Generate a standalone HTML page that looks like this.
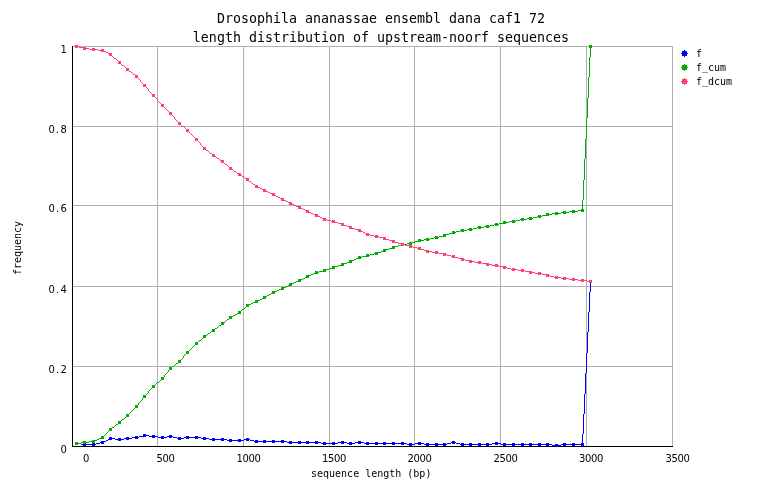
<!DOCTYPE html>
<html><head><meta charset="utf-8"><title>length distribution of upstream-noorf sequences</title>
<style>
html,body{margin:0;padding:0;background:#fff;}
body{width:762px;height:498px;overflow:hidden;position:relative;font-family:"DejaVu Sans Mono","Liberation Mono",monospace;color:#000;}
svg{position:absolute;left:0;top:0;display:block;}
.t{position:absolute;white-space:pre;line-height:1;}
.title{font-size:13.3px;letter-spacing:0;}
.lab{font-size:10px;letter-spacing:0;}
.num{font-family:"DejaVu Sans","Liberation Sans",sans-serif;font-size:10px;letter-spacing:-0.36px;}
.us{position:relative;top:-1.5px;}
.num i{font-style:normal;display:inline-block;width:6px;text-align:center;letter-spacing:0;}
</style></head><body>
<svg width="762" height="498" viewBox="0 0 762 498">

<g shape-rendering="crispEdges" stroke="#b0b0b0" stroke-width="1" fill="none">
<line x1="157.5" y1="46" x2="157.5" y2="447"/>
<line x1="243.5" y1="46" x2="243.5" y2="447"/>
<line x1="329.5" y1="46" x2="329.5" y2="447"/>
<line x1="414.5" y1="46" x2="414.5" y2="447"/>
<line x1="500.5" y1="46" x2="500.5" y2="447"/>
<line x1="586.5" y1="46" x2="586.5" y2="447"/>
<line x1="672.5" y1="46" x2="672.5" y2="447"/>
<line x1="72" y1="46.5" x2="673" y2="46.5"/>
<line x1="72" y1="126.5" x2="673" y2="126.5"/>
<line x1="72" y1="205.5" x2="673" y2="205.5"/>
<line x1="72" y1="286.5" x2="673" y2="286.5"/>
<line x1="72" y1="366.5" x2="673" y2="366.5"/>
</g>
<g shape-rendering="crispEdges" stroke="#000" stroke-width="1" fill="none">
<line x1="72.5" y1="46" x2="72.5" y2="447"/>
<line x1="72" y1="446.5" x2="673" y2="446.5"/>
</g>
<path fill="#0000ff" shape-rendering="crispEdges" d="M76 443h5v1h-5zM81 444h15v1h-15zM96 443h4v1h-4zM100 442h4v1h-4zM104 441h2v1h-2zM106 440h2v1h-2zM108 439h2v1h-2zM110 438h5v1h-5zM115 439h9v1h-9zM124 438h8v1h-8zM132 437h7v1h-7zM139 436h4v1h-4zM143 435h6v1h-6zM149 436h9v1h-9zM158 437h9v1h-9zM167 436h6v1h-6zM173 437h4v1h-4zM177 438h7v1h-7zM184 437h17v1h-17zM201 438h8v1h-8zM209 439h18v1h-18zM227 440h17v1h-17zM244 439h6v1h-6zM250 440h4v1h-4zM254 441h33v1h-33zM287 442h34v1h-34zM321 443h17v1h-17zM338 442h9v1h-9zM347 443h8v1h-8zM355 442h9v1h-9zM364 443h43v1h-43zM407 444h8v1h-8zM415 443h9v1h-9zM424 444h23v1h-23zM447 443h4v1h-4zM451 442h5v1h-5zM456 443h4v1h-4zM460 444h32v1h-32zM492 443h9v1h-9zM501 444h51v1h-51zM552 445h9v1h-9zM561 444h22v1h-22zM582 434h1v11h-1zM583 414h1v20h-1zM584 394h1v20h-1zM585 373h1v21h-1zM586 353h1v20h-1zM587 332h1v21h-1zM588 312h1v20h-1zM589 292h1v20h-1zM590 281h1v11h-1z"/>
<g fill="#0000ff" shape-rendering="crispEdges">
<rect x="75" y="442" width="3" height="3"/>
<rect x="83" y="443" width="3" height="3"/>
<rect x="92" y="443" width="3" height="3"/>
<rect x="101" y="441" width="3" height="3"/>
<rect x="109" y="437" width="3" height="3"/>
<rect x="118" y="438" width="3" height="3"/>
<rect x="126" y="437" width="3" height="3"/>
<rect x="135" y="436" width="3" height="3"/>
<rect x="143" y="434" width="3" height="3"/>
<rect x="152" y="435" width="3" height="3"/>
<rect x="161" y="436" width="3" height="3"/>
<rect x="169" y="435" width="3" height="3"/>
<rect x="178" y="437" width="3" height="3"/>
<rect x="186" y="436" width="3" height="3"/>
<rect x="195" y="436" width="3" height="3"/>
<rect x="203" y="437" width="3" height="3"/>
<rect x="212" y="438" width="3" height="3"/>
<rect x="221" y="438" width="3" height="3"/>
<rect x="229" y="439" width="3" height="3"/>
<rect x="238" y="439" width="3" height="3"/>
<rect x="246" y="438" width="3" height="3"/>
<rect x="255" y="440" width="3" height="3"/>
<rect x="263" y="440" width="3" height="3"/>
<rect x="272" y="440" width="3" height="3"/>
<rect x="281" y="440" width="3" height="3"/>
<rect x="289" y="441" width="3" height="3"/>
<rect x="298" y="441" width="3" height="3"/>
<rect x="306" y="441" width="3" height="3"/>
<rect x="315" y="441" width="3" height="3"/>
<rect x="323" y="442" width="3" height="3"/>
<rect x="332" y="442" width="3" height="3"/>
<rect x="341" y="441" width="3" height="3"/>
<rect x="349" y="442" width="3" height="3"/>
<rect x="358" y="441" width="3" height="3"/>
<rect x="366" y="442" width="3" height="3"/>
<rect x="375" y="442" width="3" height="3"/>
<rect x="383" y="442" width="3" height="3"/>
<rect x="392" y="442" width="3" height="3"/>
<rect x="401" y="442" width="3" height="3"/>
<rect x="409" y="443" width="3" height="3"/>
<rect x="418" y="442" width="3" height="3"/>
<rect x="426" y="443" width="3" height="3"/>
<rect x="435" y="443" width="3" height="3"/>
<rect x="443" y="443" width="3" height="3"/>
<rect x="452" y="441" width="3" height="3"/>
<rect x="461" y="443" width="3" height="3"/>
<rect x="469" y="443" width="3" height="3"/>
<rect x="478" y="443" width="3" height="3"/>
<rect x="486" y="443" width="3" height="3"/>
<rect x="495" y="442" width="3" height="3"/>
<rect x="503" y="443" width="3" height="3"/>
<rect x="512" y="443" width="3" height="3"/>
<rect x="521" y="443" width="3" height="3"/>
<rect x="529" y="443" width="3" height="3"/>
<rect x="538" y="443" width="3" height="3"/>
<rect x="546" y="443" width="3" height="3"/>
<rect x="555" y="444" width="3" height="3"/>
<rect x="563" y="443" width="3" height="3"/>
<rect x="572" y="443" width="3" height="3"/>
<rect x="581" y="443" width="3" height="3"/>
<rect x="589" y="280" width="3" height="3"/>
</g>
<path fill="#00ad00" shape-rendering="crispEdges" d="M76 443h5v1h-5zM81 442h8v1h-8zM89 441h6v1h-6zM95 440h2v1h-2zM97 439h2v1h-2zM99 438h2v1h-2zM101 437h2v1h-2zM103 436h1v1h-1zM104 435h1v1h-1zM105 434h1v1h-1zM106 433h1v1h-1zM107 432h1v1h-1zM108 431h1v1h-1zM109 430h1v1h-1zM110 429h1v1h-1zM111 428h1v1h-1zM112 427h2v1h-2zM114 426h1v1h-1zM115 425h1v1h-1zM116 424h2v1h-2zM118 423h1v1h-1zM119 422h1v1h-1zM120 421h1v1h-1zM121 420h1v1h-1zM122 419h2v1h-2zM124 418h1v1h-1zM125 417h1v1h-1zM126 416h1v1h-1zM127 415h1v1h-1zM128 414h1v1h-1zM129 413h1v1h-1zM130 412h1v1h-1zM131 411h1v1h-1zM132 410h1v1h-1zM133 409h1v1h-1zM134 408h1v1h-1zM135 407h1v1h-1zM136 406h1v1h-1zM137 405h1v1h-1zM138 403h1v2h-1zM139 402h1v1h-1zM140 401h1v1h-1zM141 400h1v1h-1zM142 398h1v2h-1zM143 397h1v1h-1zM144 396h1v1h-1zM145 395h1v1h-1zM146 394h1v1h-1zM147 393h1v1h-1zM148 391h1v2h-1zM149 390h1v1h-1zM150 389h1v1h-1zM151 388h1v1h-1zM152 387h1v1h-1zM153 386h1v1h-1zM154 385h1v1h-1zM155 384h1v1h-1zM156 383h1v1h-1zM157 382h2v1h-2zM159 381h1v1h-1zM160 380h1v1h-1zM161 379h1v1h-1zM162 378h1v1h-1zM163 377h1v1h-1zM164 375h1v2h-1zM165 374h1v1h-1zM166 373h1v1h-1zM167 372h1v1h-1zM168 370h1v2h-1zM169 369h1v1h-1zM170 368h1v1h-1zM171 367h1v1h-1zM172 366h2v1h-2zM174 365h1v1h-1zM175 364h1v1h-1zM176 363h2v1h-2zM178 362h1v1h-1zM179 361h1v1h-1zM180 360h1v1h-1zM181 359h1v1h-1zM182 358h1v1h-1zM183 356h1v2h-1zM184 355h1v1h-1zM185 354h1v1h-1zM186 353h1v1h-1zM187 352h1v1h-1zM188 351h1v1h-1zM189 350h1v1h-1zM190 349h1v1h-1zM191 348h1v1h-1zM192 347h1v1h-1zM193 346h1v1h-1zM194 345h1v1h-1zM195 344h1v1h-1zM196 343h1v1h-1zM197 342h1v1h-1zM198 341h1v1h-1zM199 340h2v1h-2zM201 339h1v1h-1zM202 338h1v1h-1zM203 337h1v1h-1zM204 336h1v1h-1zM205 335h2v1h-2zM207 334h1v1h-1zM208 333h2v1h-2zM210 332h1v1h-1zM211 331h2v1h-2zM213 330h1v1h-1zM214 329h1v1h-1zM215 328h2v1h-2zM217 327h1v1h-1zM218 326h1v1h-1zM219 325h2v1h-2zM221 324h1v1h-1zM222 323h1v1h-1zM223 322h2v1h-2zM225 321h1v1h-1zM226 320h1v1h-1zM227 319h2v1h-2zM229 318h1v1h-1zM230 317h1v1h-1zM231 316h2v1h-2zM233 315h2v1h-2zM235 314h2v1h-2zM237 313h2v1h-2zM239 312h1v1h-1zM240 311h1v1h-1zM241 310h1v1h-1zM242 309h2v1h-2zM244 308h1v1h-1zM245 307h1v1h-1zM246 306h1v1h-1zM247 305h2v1h-2zM249 304h2v1h-2zM251 303h2v1h-2zM253 302h2v1h-2zM255 301h3v1h-3zM258 300h2v1h-2zM260 299h2v1h-2zM262 298h2v1h-2zM264 297h1v1h-1zM265 296h2v1h-2zM267 295h2v1h-2zM269 294h2v1h-2zM271 293h2v1h-2zM273 292h2v1h-2zM275 291h2v1h-2zM277 290h2v1h-2zM279 289h2v1h-2zM281 288h3v1h-3zM284 287h2v1h-2zM286 286h2v1h-2zM288 285h2v1h-2zM290 284h2v1h-2zM292 283h2v1h-2zM294 282h2v1h-2zM296 281h2v1h-2zM298 280h3v1h-3zM301 279h2v1h-2zM303 278h2v1h-2zM305 277h2v1h-2zM307 276h2v1h-2zM309 275h2v1h-2zM311 274h2v1h-2zM313 273h2v1h-2zM315 272h4v1h-4zM319 271h4v1h-4zM323 270h3v1h-3zM326 269h3v1h-3zM329 268h3v1h-3zM332 267h3v1h-3zM335 266h3v1h-3zM338 265h3v1h-3zM341 264h3v1h-3zM344 263h3v1h-3zM347 262h2v1h-2zM349 261h3v1h-3zM352 260h2v1h-2zM354 259h2v1h-2zM356 258h2v1h-2zM358 257h4v1h-4zM362 256h4v1h-4zM366 255h4v1h-4zM370 254h4v1h-4zM374 253h4v1h-4zM378 252h3v1h-3zM381 251h2v1h-2zM383 250h3v1h-3zM386 249h3v1h-3zM389 248h3v1h-3zM392 247h3v1h-3zM395 246h3v1h-3zM398 245h3v1h-3zM401 244h6v1h-6zM407 243h5v1h-5zM412 242h3v1h-3zM415 241h3v1h-3zM418 240h6v1h-6zM424 239h6v1h-6zM430 238h4v1h-4zM434 237h5v1h-5zM439 236h4v1h-4zM443 235h3v1h-3zM446 234h3v1h-3zM449 233h3v1h-3zM452 232h4v1h-4zM456 231h4v1h-4zM460 230h7v1h-7zM467 229h6v1h-6zM473 228h4v1h-4zM477 227h7v1h-7zM484 226h6v1h-6zM490 225h4v1h-4zM494 224h5v1h-5zM499 223h4v1h-4zM503 222h6v1h-6zM509 221h7v1h-7zM516 220h4v1h-4zM520 219h7v1h-7zM527 218h6v1h-6zM533 217h4v1h-4zM537 216h5v1h-5zM542 215h4v1h-4zM546 214h6v1h-6zM552 213h9v1h-9zM561 212h8v1h-8zM569 211h9v1h-9zM578 210h5v1h-5zM582 200h1v11h-1zM583 180h1v20h-1zM584 159h1v21h-1zM585 139h1v20h-1zM586 118h1v21h-1zM587 98h1v20h-1zM588 77h1v21h-1zM589 57h1v20h-1zM590 46h1v11h-1z"/>
<g fill="#00ad00" shape-rendering="crispEdges">
<rect x="75" y="442" width="3" height="3"/>
<rect x="83" y="441" width="3" height="3"/>
<rect x="92" y="440" width="3" height="3"/>
<rect x="101" y="436" width="3" height="3"/>
<rect x="109" y="428" width="3" height="3"/>
<rect x="118" y="421" width="3" height="3"/>
<rect x="126" y="414" width="3" height="3"/>
<rect x="135" y="405" width="3" height="3"/>
<rect x="143" y="395" width="3" height="3"/>
<rect x="152" y="385" width="3" height="3"/>
<rect x="161" y="377" width="3" height="3"/>
<rect x="169" y="367" width="3" height="3"/>
<rect x="178" y="360" width="3" height="3"/>
<rect x="186" y="351" width="3" height="3"/>
<rect x="195" y="342" width="3" height="3"/>
<rect x="203" y="335" width="3" height="3"/>
<rect x="212" y="329" width="3" height="3"/>
<rect x="221" y="322" width="3" height="3"/>
<rect x="229" y="316" width="3" height="3"/>
<rect x="238" y="311" width="3" height="3"/>
<rect x="246" y="304" width="3" height="3"/>
<rect x="255" y="300" width="3" height="3"/>
<rect x="263" y="296" width="3" height="3"/>
<rect x="272" y="291" width="3" height="3"/>
<rect x="281" y="287" width="3" height="3"/>
<rect x="289" y="283" width="3" height="3"/>
<rect x="298" y="279" width="3" height="3"/>
<rect x="306" y="275" width="3" height="3"/>
<rect x="315" y="271" width="3" height="3"/>
<rect x="323" y="269" width="3" height="3"/>
<rect x="332" y="266" width="3" height="3"/>
<rect x="341" y="263" width="3" height="3"/>
<rect x="349" y="260" width="3" height="3"/>
<rect x="358" y="256" width="3" height="3"/>
<rect x="366" y="254" width="3" height="3"/>
<rect x="375" y="252" width="3" height="3"/>
<rect x="383" y="249" width="3" height="3"/>
<rect x="392" y="246" width="3" height="3"/>
<rect x="401" y="243" width="3" height="3"/>
<rect x="409" y="242" width="3" height="3"/>
<rect x="418" y="239" width="3" height="3"/>
<rect x="426" y="238" width="3" height="3"/>
<rect x="435" y="236" width="3" height="3"/>
<rect x="443" y="234" width="3" height="3"/>
<rect x="452" y="231" width="3" height="3"/>
<rect x="461" y="229" width="3" height="3"/>
<rect x="469" y="228" width="3" height="3"/>
<rect x="478" y="226" width="3" height="3"/>
<rect x="486" y="225" width="3" height="3"/>
<rect x="495" y="223" width="3" height="3"/>
<rect x="503" y="221" width="3" height="3"/>
<rect x="512" y="220" width="3" height="3"/>
<rect x="521" y="218" width="3" height="3"/>
<rect x="529" y="217" width="3" height="3"/>
<rect x="538" y="215" width="3" height="3"/>
<rect x="546" y="213" width="3" height="3"/>
<rect x="555" y="212" width="3" height="3"/>
<rect x="563" y="211" width="3" height="3"/>
<rect x="572" y="210" width="3" height="3"/>
<rect x="581" y="209" width="3" height="3"/>
<rect x="589" y="45" width="3" height="3"/>
</g>
<path fill="#ff4070" shape-rendering="crispEdges" d="M76 46h3v1h-3zM79 47h4v1h-4zM83 48h6v1h-6zM89 49h9v1h-9zM98 50h6v1h-6zM104 51h2v1h-2zM106 52h2v1h-2zM108 53h2v1h-2zM110 54h1v1h-1zM111 55h1v1h-1zM112 56h1v1h-1zM113 57h1v1h-1zM114 58h2v1h-2zM116 59h1v1h-1zM117 60h1v1h-1zM118 61h1v1h-1zM119 62h1v1h-1zM120 63h1v1h-1zM121 64h1v1h-1zM122 65h2v1h-2zM124 66h1v1h-1zM125 67h1v1h-1zM126 68h1v1h-1zM127 69h1v1h-1zM128 70h1v1h-1zM129 71h2v1h-2zM131 72h1v1h-1zM132 73h1v1h-1zM133 74h2v1h-2zM135 75h1v1h-1zM136 76h1v1h-1zM137 77h1v1h-1zM138 78h1v1h-1zM139 79h1v1h-1zM140 80h1v2h-1zM141 82h1v1h-1zM142 83h1v1h-1zM143 84h1v1h-1zM144 85h1v1h-1zM145 86h1v1h-1zM146 87h1v1h-1zM147 88h1v1h-1zM148 89h1v2h-1zM149 91h1v1h-1zM150 92h1v1h-1zM151 93h1v1h-1zM152 94h1v1h-1zM153 95h1v1h-1zM154 96h1v1h-1zM155 97h1v1h-1zM156 98h1v1h-1zM157 99h1v2h-1zM158 101h1v1h-1zM159 102h1v1h-1zM160 103h1v1h-1zM161 104h1v1h-1zM162 105h1v1h-1zM163 106h1v1h-1zM164 107h1v1h-1zM165 108h1v1h-1zM166 109h1v1h-1zM167 110h1v1h-1zM168 111h1v1h-1zM169 112h1v1h-1zM170 113h1v1h-1zM171 114h1v1h-1zM172 115h1v1h-1zM173 116h1v1h-1zM174 117h1v2h-1zM175 119h1v1h-1zM176 120h1v1h-1zM177 121h1v1h-1zM178 122h1v1h-1zM179 123h1v1h-1zM180 124h1v1h-1zM181 125h1v1h-1zM182 126h2v1h-2zM184 127h1v1h-1zM185 128h1v1h-1zM186 129h1v1h-1zM187 130h1v1h-1zM188 131h1v1h-1zM189 132h1v1h-1zM190 133h1v1h-1zM191 134h1v1h-1zM192 135h1v1h-1zM193 136h1v1h-1zM194 137h1v1h-1zM195 138h1v1h-1zM196 139h1v1h-1zM197 140h1v1h-1zM198 141h1v1h-1zM199 142h1v1h-1zM200 143h1v2h-1zM201 145h1v1h-1zM202 146h1v1h-1zM203 147h1v1h-1zM204 148h1v1h-1zM205 149h1v1h-1zM206 150h2v1h-2zM208 151h1v1h-1zM209 152h1v1h-1zM210 153h2v1h-2zM212 154h1v1h-1zM213 155h1v1h-1zM214 156h2v1h-2zM216 157h1v1h-1zM217 158h2v1h-2zM219 159h1v1h-1zM220 160h2v1h-2zM222 161h1v1h-1zM223 162h1v1h-1zM224 163h1v1h-1zM225 164h2v1h-2zM227 165h1v1h-1zM228 166h1v1h-1zM229 167h1v1h-1zM230 168h1v1h-1zM231 169h2v1h-2zM233 170h1v1h-1zM234 171h2v1h-2zM236 172h1v1h-1zM237 173h2v1h-2zM239 174h1v1h-1zM240 175h2v1h-2zM242 176h2v1h-2zM244 177h1v1h-1zM245 178h2v1h-2zM247 179h1v1h-1zM248 180h1v1h-1zM249 181h2v1h-2zM251 182h1v1h-1zM252 183h1v1h-1zM253 184h2v1h-2zM255 185h1v1h-1zM256 186h2v1h-2zM258 187h2v1h-2zM260 188h2v1h-2zM262 189h2v1h-2zM264 190h2v1h-2zM266 191h2v1h-2zM268 192h2v1h-2zM270 193h2v1h-2zM272 194h2v1h-2zM274 195h2v1h-2zM276 196h2v1h-2zM278 197h2v1h-2zM280 198h2v1h-2zM282 199h2v1h-2zM284 200h2v1h-2zM286 201h2v1h-2zM288 202h2v1h-2zM290 203h2v1h-2zM292 204h2v1h-2zM294 205h2v1h-2zM296 206h2v1h-2zM298 207h3v1h-3zM301 208h2v1h-2zM303 209h2v1h-2zM305 210h2v1h-2zM307 211h2v1h-2zM309 212h2v1h-2zM311 213h2v1h-2zM313 214h2v1h-2zM315 215h3v1h-3zM318 216h2v1h-2zM320 217h2v1h-2zM322 218h2v1h-2zM324 219h3v1h-3zM327 220h4v1h-4zM331 221h4v1h-4zM335 222h3v1h-3zM338 223h3v1h-3zM341 224h3v1h-3zM344 225h3v1h-3zM347 226h2v1h-2zM349 227h3v1h-3zM352 228h3v1h-3zM355 229h3v1h-3zM358 230h3v1h-3zM361 231h2v1h-2zM363 232h2v1h-2zM365 233h2v1h-2zM367 234h3v1h-3zM370 235h4v1h-4zM374 236h5v1h-5zM379 237h4v1h-4zM383 238h3v1h-3zM386 239h3v1h-3zM389 240h3v1h-3zM392 241h3v1h-3zM395 242h3v1h-3zM398 243h3v1h-3zM401 244h4v1h-4zM405 245h4v1h-4zM409 246h4v1h-4zM413 247h4v1h-4zM417 248h4v1h-4zM421 249h3v1h-3zM424 250h2v1h-2zM426 251h6v1h-6zM432 252h7v1h-7zM439 253h4v1h-4zM443 254h4v1h-4zM447 255h4v1h-4zM451 256h4v1h-4zM455 257h3v1h-3zM458 258h3v1h-3zM461 259h4v1h-4zM465 260h4v1h-4zM469 261h6v1h-6zM475 262h7v1h-7zM482 263h4v1h-4zM486 264h6v1h-6zM492 265h7v1h-7zM499 266h4v1h-4zM503 267h4v1h-4zM507 268h4v1h-4zM511 269h7v1h-7zM518 270h7v1h-7zM525 271h4v1h-4zM529 272h6v1h-6zM535 273h7v1h-7zM542 274h4v1h-4zM546 275h4v1h-4zM550 276h4v1h-4zM554 277h7v1h-7zM561 278h8v1h-8zM569 279h9v1h-9zM578 280h9v1h-9zM587 281h4v1h-4z"/>
<g fill="#ff4070" shape-rendering="crispEdges">
<rect x="75" y="45" width="3" height="3"/>
<rect x="83" y="47" width="3" height="3"/>
<rect x="92" y="48" width="3" height="3"/>
<rect x="101" y="49" width="3" height="3"/>
<rect x="109" y="53" width="3" height="3"/>
<rect x="118" y="61" width="3" height="3"/>
<rect x="126" y="68" width="3" height="3"/>
<rect x="135" y="75" width="3" height="3"/>
<rect x="143" y="84" width="3" height="3"/>
<rect x="152" y="94" width="3" height="3"/>
<rect x="161" y="104" width="3" height="3"/>
<rect x="169" y="112" width="3" height="3"/>
<rect x="178" y="122" width="3" height="3"/>
<rect x="186" y="129" width="3" height="3"/>
<rect x="195" y="138" width="3" height="3"/>
<rect x="203" y="147" width="3" height="3"/>
<rect x="212" y="154" width="3" height="3"/>
<rect x="221" y="160" width="3" height="3"/>
<rect x="229" y="167" width="3" height="3"/>
<rect x="238" y="173" width="3" height="3"/>
<rect x="246" y="178" width="3" height="3"/>
<rect x="255" y="185" width="3" height="3"/>
<rect x="263" y="189" width="3" height="3"/>
<rect x="272" y="193" width="3" height="3"/>
<rect x="281" y="198" width="3" height="3"/>
<rect x="289" y="202" width="3" height="3"/>
<rect x="298" y="206" width="3" height="3"/>
<rect x="306" y="210" width="3" height="3"/>
<rect x="315" y="214" width="3" height="3"/>
<rect x="323" y="218" width="3" height="3"/>
<rect x="332" y="220" width="3" height="3"/>
<rect x="341" y="223" width="3" height="3"/>
<rect x="349" y="226" width="3" height="3"/>
<rect x="358" y="229" width="3" height="3"/>
<rect x="366" y="233" width="3" height="3"/>
<rect x="375" y="235" width="3" height="3"/>
<rect x="383" y="237" width="3" height="3"/>
<rect x="392" y="240" width="3" height="3"/>
<rect x="401" y="243" width="3" height="3"/>
<rect x="409" y="245" width="3" height="3"/>
<rect x="418" y="247" width="3" height="3"/>
<rect x="426" y="250" width="3" height="3"/>
<rect x="435" y="251" width="3" height="3"/>
<rect x="443" y="253" width="3" height="3"/>
<rect x="452" y="255" width="3" height="3"/>
<rect x="461" y="258" width="3" height="3"/>
<rect x="469" y="260" width="3" height="3"/>
<rect x="478" y="261" width="3" height="3"/>
<rect x="486" y="263" width="3" height="3"/>
<rect x="495" y="264" width="3" height="3"/>
<rect x="503" y="266" width="3" height="3"/>
<rect x="512" y="268" width="3" height="3"/>
<rect x="521" y="269" width="3" height="3"/>
<rect x="529" y="271" width="3" height="3"/>
<rect x="538" y="272" width="3" height="3"/>
<rect x="546" y="274" width="3" height="3"/>
<rect x="555" y="276" width="3" height="3"/>
<rect x="563" y="277" width="3" height="3"/>
<rect x="572" y="278" width="3" height="3"/>
<rect x="581" y="279" width="3" height="3"/>
<rect x="589" y="280" width="3" height="3"/>
</g>
<path fill="#0000ff" shape-rendering="crispEdges" d="M684 50h1v1h-1zM682 51h5v5h-5zM681 53h7v1h-7zM684 56h1v1h-1z"/>
<path fill="#00ad00" shape-rendering="crispEdges" d="M684 64h1v1h-1zM682 65h5v5h-5zM681 67h7v1h-7zM684 70h1v1h-1z"/>
<path fill="#ff4070" shape-rendering="crispEdges" d="M684 78h1v1h-1zM682 79h5v5h-5zM681 81h7v1h-7zM684 84h1v1h-1z"/>
</svg>
<div class="t title" id="t1" style="left:0;width:762px;text-align:center;top:12px;">Drosophila ananassae ensembl dana caf1 72</div>
<div class="t title" id="t2" style="left:0;width:762px;text-align:center;top:30.5px;">length distribution of upstream-noorf sequences</div>
<div class="t num ytick" style="left:0;width:66.6px;text-align:right;top:45px;">1</div>
<div class="t num ytick" style="left:0;width:66.6px;text-align:right;top:125px;">0<i>.</i>8</div>
<div class="t num ytick" style="left:0;width:66.6px;text-align:right;top:204px;">0<i>.</i>6</div>
<div class="t num ytick" style="left:0;width:66.6px;text-align:right;top:285px;">0<i>.</i>4</div>
<div class="t num ytick" style="left:0;width:66.6px;text-align:right;top:365px;">0<i>.</i>2</div>
<div class="t num ytick" style="left:0;width:66.6px;text-align:right;top:445px;">0</div>
<div class="t num xtick" style="left:29px;width:60px;text-align:right;top:454px;">0</div>
<div class="t num xtick" style="left:114.5px;width:60px;text-align:right;top:454px;">500</div>
<div class="t num xtick" style="left:200.5px;width:60px;text-align:right;top:454px;">1000</div>
<div class="t num xtick" style="left:286px;width:60px;text-align:right;top:454px;">1500</div>
<div class="t num xtick" style="left:371.5px;width:60px;text-align:right;top:454px;">2000</div>
<div class="t num xtick" style="left:457.5px;width:60px;text-align:right;top:454px;">2500</div>
<div class="t num xtick" style="left:543px;width:60px;text-align:right;top:454px;">3000</div>
<div class="t num xtick" style="left:629.6px;width:60px;text-align:right;top:454px;">3500</div>
<div class="t lab" id="xl" style="left:311px;top:469px;">sequence length (bp)</div>
<div class="t lab" id="yl" style="left:18px;top:249px;width:0;height:0;"><div style="position:absolute;left:-30px;top:-6px;width:60px;text-align:center;transform:rotate(-90deg);line-height:1;">frequency</div></div>
<div class="t lab leg" style="left:696px;top:49px;">f</div>
<div class="t lab leg" style="left:696px;top:63px;">f<span class="us">_</span>cum</div>
<div class="t lab leg" style="left:696px;top:77px;">f<span class="us">_</span>dcum</div>
</body></html>
